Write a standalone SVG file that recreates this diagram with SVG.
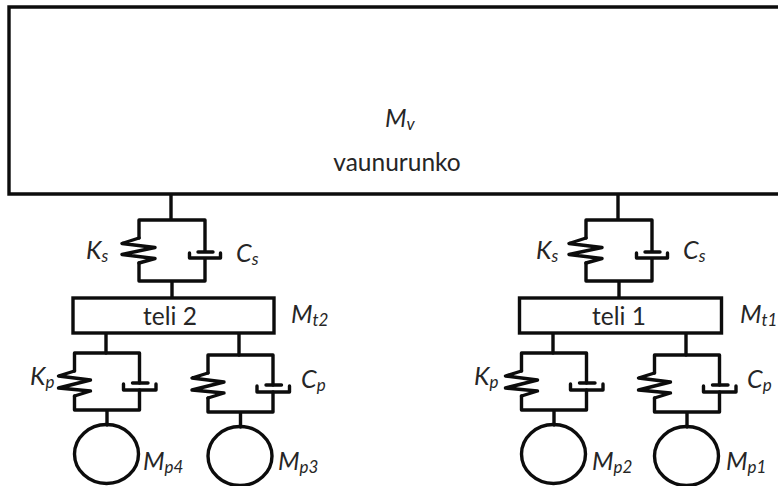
<svg xmlns="http://www.w3.org/2000/svg" width="778" height="486" viewBox="0 0 778 486">
<style>
.l{fill:none;stroke:#0c0c0c;stroke-width:3.400;stroke-linejoin:round;stroke-linecap:round}
.b{fill:#fff;stroke:#0c0c0c;stroke-width:3.400;stroke-linejoin:miter}
text{font-family:"Lato","Liberation Sans",sans-serif;fill:#262626}
.n{font-size:24.500px;text-anchor:middle}
.m{font-size:25px;font-style:italic}
.s{font-size:17px;font-style:italic}
</style>
<defs>
<g id="upper">
<path class="l" d="M171 195V220M139 238V220H205V252M198 252H213M189.500 253V258H220.500V253M205 258V281H139V263M172 281V297"/>
<path class="l" d="M139 238L122 243.500L155 247.500L122 254.500L155 258.500L139 263"/>
</g>
<g id="lower">
<path class="l" d="M-32.500 18V0H32.500V30M32.500 37V57H-32.500V43M0 57V72"/>
<path class="l" d="M-32.500 18L-48.500 23L-16.500 27L-48.500 35L-16.500 38L-32.500 43"/>
<path class="l" d="M25.500 30H41M16.500 31V37H49V31"/>
<ellipse class="l" cx="-0.500" cy="101" rx="32" ry="29.500"/>
</g>
</defs>
<g id="connectors">
<use href="#upper"/>
<use href="#upper" x="447"/>
<path class="l" d="M106 334V353M239 334V355M553 334V353M686 334V355"/>
</g>
<g id="vaunurunko">
<path class="b" d="M780 7H9V194H780"/>
<text x="385" y="127" class="m">M<tspan class="s" dy="3">v</tspan></text>
<text x="397" y="171" class="n">vaunurunko</text>
</g>
<g id="susp-s2"><text x="86" y="259" class="m">K<tspan class="s" dy="3">s</tspan></text><text x="236" y="262" class="m">C<tspan class="s" dy="3">s</tspan></text></g>
<g id="susp-s1"><text x="536" y="259" class="m">K<tspan class="s" dy="3">s</tspan></text><text x="683" y="259" class="m">C<tspan class="s" dy="3">s</tspan></text></g>
<g id="teli2">
<rect class="b" x="73" y="298" width="201" height="35"/>
<text x="170" y="325" class="n">teli 2</text>
<text x="291" y="323" class="m">M<tspan class="s" dy="3">t2</tspan></text>
</g>
<g id="teli1">
<rect class="b" x="519.500" y="298" width="202" height="35"/>
<text x="619" y="325" class="n">teli 1</text>
<text x="740" y="323" class="m">M<tspan class="s" dy="3">t1</tspan></text>
</g>
<g id="wheel-p4"><use href="#lower" transform="translate(107 353)"/><text x="143" y="470" class="m">M<tspan class="s" dy="3">p4</tspan></text><text x="30" y="385" class="m">K<tspan class="s" dy="3">p</tspan></text></g>
<g id="wheel-p3"><use href="#lower" transform="translate(240.500 355)"/><text x="278" y="470" class="m">M<tspan class="s" dy="3">p3</tspan></text><text x="301" y="388" class="m">C<tspan class="s" dy="3">p</tspan></text></g>
<g id="wheel-p2"><use href="#lower" transform="translate(554 353)"/><text x="592" y="470" class="m">M<tspan class="s" dy="3">p2</tspan></text><text x="474" y="385" class="m">K<tspan class="s" dy="3">p</tspan></text></g>
<g id="wheel-p1"><use href="#lower" transform="translate(687 355)"/><text x="726" y="470" class="m">M<tspan class="s" dy="3">p1</tspan></text><text x="747" y="388" class="m">C<tspan class="s" dy="3">p</tspan></text></g>
</svg>
